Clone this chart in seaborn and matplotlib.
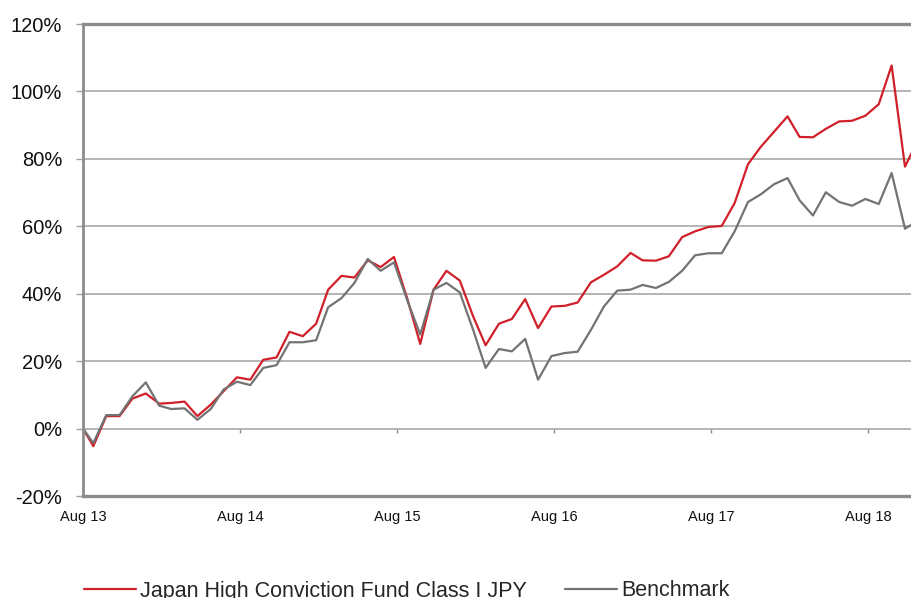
import numpy as np
import pandas as pd
import matplotlib
matplotlib.use("Agg")
import matplotlib.pyplot as plt
import matplotlib.dates as mdates
from matplotlib.ticker import FuncFormatter
import seaborn as sns

# cumulative performance, % (inception then month ends Aug 13 .. Nov 18)
dates = [pd.Timestamp("2013-08-07")] + list(pd.date_range("2013-08-31", "2018-11-30", freq="ME"))

fund = [0, -5.2, 3.7, 3.7, 8.9, 10.4, 7.4, 7.6, 8.0, 3.7,
        7.1, 11.1, 15.2, 14.5, 20.4, 21.1, 28.7, 27.4, 31.1, 41.2,
        45.3, 44.8, 49.9, 47.9, 50.9, 38.5, 25.1, 41.2, 46.8, 43.9,
        33.3, 24.7, 31.1, 32.5, 38.4, 29.8, 36.2, 36.4, 37.4, 43.4,
        45.6, 48.1, 52.1, 49.9, 49.8, 51.1, 56.8, 58.5, 59.8, 60.1,
        66.9, 78.4, 83.6, 88.1, 92.6, 86.5, 86.4, 88.9, 91.1, 91.3,
        92.8, 96.2, 107.7, 77.7, 85.5]

bench = [0, -4.3, 4.0, 4.0, 9.6, 13.7, 6.8, 5.8, 6.0, 2.6,
         5.8, 11.6, 13.9, 12.9, 18.0, 18.8, 25.6, 25.6, 26.2, 36.0,
         38.7, 43.2, 50.3, 46.8, 49.3, 38.0, 27.9, 41.2, 43.2, 40.4,
         29.3, 18.0, 23.6, 22.9, 26.6, 14.5, 21.5, 22.4, 22.8, 29.3,
         36.2, 40.9, 41.2, 42.6, 41.7, 43.5, 46.8, 51.4, 52.0, 52.0,
         58.5, 67.2, 69.5, 72.5, 74.3, 67.7, 63.2, 70.1, 67.2, 66.1,
         68.1, 66.6, 75.8, 59.3, 61.6]

series_names = ["Japan High Conviction Fund Class I JPY", "Benchmark"]
tick_dates = pd.to_datetime(["2013-08-07", "2014-08-07", "2015-08-07",
                             "2016-08-07", "2017-08-07", "2018-08-07"])
y_ticks = [-20, 0, 20, 40, 60, 80, 100, 120]

df = pd.concat([
    pd.DataFrame({"date": dates, "value": fund, "series": series_names[0]}),
    pd.DataFrame({"date": dates, "value": bench, "series": series_names[1]}),
])

sns.set_style("white")
plt.rcParams["font.family"] = ["Liberation Sans", "DejaVu Sans"]

W, H = 911, 598
fig = plt.figure(figsize=(W / 100, H / 100), dpi=100)
ax = fig.add_axes([83 / W, 1 - 496 / H, 1 - 83 / W, (496 - 24) / H])

sns.lineplot(data=df, x="date", y="value", hue="series", ax=ax,
             palette={series_names[0]: "#d0202a", series_names[1]: "#737373"},
             linewidth=1.6, legend=False)

ax.set_xlim(pd.Timestamp("2013-08-07"), pd.Timestamp("2018-11-14"))
ax.set_ylim(-20, 120)
ax.set_yticks(y_ticks)
ax.yaxis.set_major_formatter(FuncFormatter(lambda v, p: f"{v:.0f}%"))
ax.set_xticks(tick_dates)
ax.xaxis.set_major_formatter(mdates.DateFormatter("%b %y"))
ax.set_xlabel("")
ax.set_ylabel("")

ax.grid(axis="y", color="#a8a8a8", linewidth=1.2)
ax.grid(axis="x", visible=False)
ax.set_axisbelow(True)

for side in ["left", "top", "bottom"]:
    ax.spines[side].set_color("#8c8c8c")
ax.spines["left"].set_linewidth(2)
ax.spines["top"].set_linewidth(2.4)
ax.spines["bottom"].set_linewidth(2.4)
ax.spines["right"].set_visible(False)

ax.tick_params(axis="y", left=True, length=5, width=1, color="#a0a0a0",
               pad=10, labelsize=14.5, labelcolor="#111111")
ax.tick_params(axis="x", bottom=False, length=0, pad=10, labelsize=10.5,
               labelcolor="#111111")

# small tick marks on the zero line
sec = ax.secondary_xaxis(20 / 140)
sec.set_xticks(tick_dates)
sec.tick_params(axis="x", direction="out", length=3, width=1, color="#8c8c8c",
                labelbottom=False)
sec.spines["bottom"].set_visible(False)

handles = [plt.Line2D([], [], color="#d0202a", linewidth=1.6),
           plt.Line2D([], [], color="#737373", linewidth=1.6)]
fig.legend(handles, series_names, loc="center left",
           bbox_to_anchor=(84 / W, 1 - 591 / H), ncol=2, frameon=False,
           fontsize=15.5, handlelength=2.4, handletextpad=0.2,
           columnspacing=1.8, borderaxespad=0, borderpad=0)

fig.savefig("out.png", dpi=100)
